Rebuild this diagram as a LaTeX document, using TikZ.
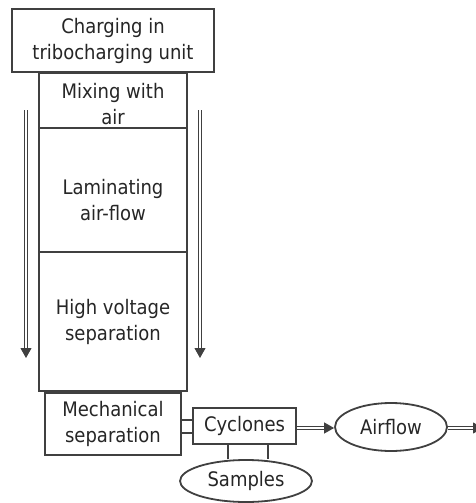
\documentclass[tikz,border=0pt]{standalone}
\usepackage{fontspec}
\setmainfont{DejaVu Sans Condensed}
\usetikzlibrary{shapes.geometric,arrows.meta,calc}
\definecolor{ln}{HTML}{404040}
\definecolor{tx}{HTML}{262626}
\begin{document}
\begin{tikzpicture}[x=1pt,y=-1pt,
  txt/.style={align=center,text=tx,font=\fontsize{20}{26}\selectfont,inner sep=0pt},
  box/.style={txt,draw=ln,line width=2pt,fill=white},
  oval/.style={ellipse,draw=ln,line width=1.8pt,fill=white,inner sep=0pt,text=tx,font=\fontsize{20}{26}\selectfont},
  flow/.style={draw=ln,line width=1pt,double=white,double distance=2pt,-{Triangle[length=10pt,width=11pt]}},
  link/.style={draw=ln,line width=1.8pt}]
\useasboundingbox (0,0) rectangle (475,503);
% down arrows
\coordinate (la) at (26,110);
\coordinate (lb) at (26,358);
\coordinate (ra) at (200,110);
\coordinate (rb) at (200,358);
\draw[flow] (la) -- (lb);
\draw[flow] (ra) -- (rb);
% boxes
\node[box,minimum width=202pt,minimum height=63pt] (charge) at (113,40.5) {Charging in\\tribocharging unit};
\node[box,minimum width=148pt,minimum height=55pt] (mix) at (113,100.5) {};
\node[box,minimum width=148pt,minimum height=124pt] (lam) at (113,190) {};
\node[box,minimum width=148pt,minimum height=139pt] (hv) at (113,321.5) {High voltage\\separation};
\node[txt] (mixt) at (113,104) {Mixing with\\air};
\node[txt] (lamt) at (113,200) {Laminating\\air-flow};
\node[box,minimum width=136pt,minimum height=62pt] (mech) at (113,424) {Mechanical\\separation};
\node[box,minimum width=103pt,minimum height=36pt] (cyc) at (244.5,426) {Cyclones};
\node[oval,minimum width=112pt,minimum height=48pt] (air) at (391,427) {Airflow};
\node[oval,minimum width=132pt,minimum height=42pt] (samp) at (246,481) {Samples};
\coordinate (out) at (483,428);
% connectors
\draw[link] (mech.east |- 0,420) -- (cyc.west |- 0,420);
\draw[link] (mech.east |- 0,433) -- (cyc.west |- 0,433);
\draw[link] (cyc.south -| 228,0) -- (samp.north -| 228,0);
\draw[link] (cyc.south -| 268,0) -- (samp.north -| 268,0);
\draw[flow] (cyc.east |- 0,428) -- (air.west |- 0,428);
\draw[flow] (air.east |- 0,428) -- (out);
\end{tikzpicture}
\end{document}
